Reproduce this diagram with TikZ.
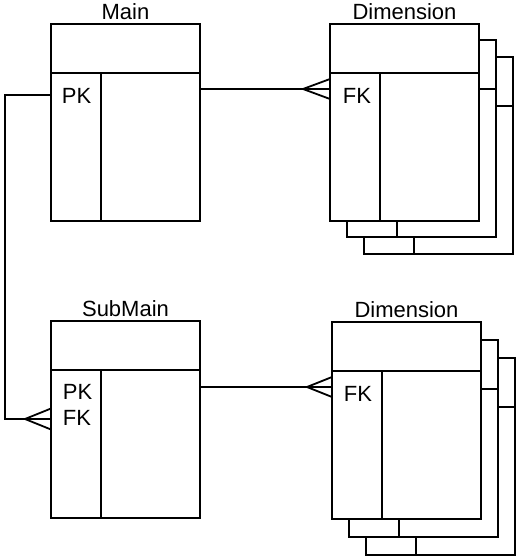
\documentclass[tikz,border=0pt]{standalone}
\usepackage{fontspec}
\setmainfont{Liberation Sans}
\usetikzlibrary{calc}
\newcommand\erdtab[3]{%
  \node[hdr] (#1h) at (#2,#3) {};
  \node[keycol] (#1k) at (#1h.south west) {};
  \node[attcol] (#1a) at (#1k.north east) {};
}
\begin{document}
\begin{tikzpicture}[x=1pt,y=-1pt,line width=1.8pt,
  cell/.style={draw,fill=white,inner sep=0pt,outer sep=0pt,anchor=north west},
  hdr/.style={cell,minimum width=149pt,minimum height=49pt},
  keycol/.style={cell,minimum width=50pt,minimum height=148pt},
  attcol/.style={cell,minimum width=99pt,minimum height=148pt},
  ttl/.style={anchor=base,inner sep=0pt,font=\fontsize{22}{26}\selectfont},
  keytxt/.style={anchor=base west,inner sep=0pt,font=\fontsize{22}{26}\selectfont},
  conn/.style={draw,line width=1.8pt,line join=miter}]
\path[use as bounding box] (0,0) rectangle (520,559);
% Main
\erdtab{main}{51}{24}
\node[ttl] (mainT) at ($(mainh.north)+(0,-4)$) {Main};
\node[keytxt] (mainPK) at ($(maink.north west)+(10,30)$) {PK};
% Dimension 1 (stacked)
\erdtab{dimAc}{364}{57}
\erdtab{dimAb}{347}{40}
\erdtab{dimA}{330}{24}
\node[ttl] (dimAT) at ($(dimAh.north)+(0,-4)$) {Dimension};
\node[keytxt] (dimAFK) at ($(dimAk.north west)+(12,30)$) {FK};
% SubMain
\erdtab{sub}{51}{321}
\node[ttl] (subT) at ($(subh.north)+(0,-5)$) {SubMain};
\node[keytxt] (subPK) at ($(subk.north west)+(11,29)$) {PK};
\node[keytxt] (subFK) at ($(subk.north west)+(11,55)$) {FK};
% Dimension 2 (stacked)
\erdtab{dimBc}{366}{358}
\erdtab{dimBb}{349}{340}
\erdtab{dimB}{332}{322}
\node[ttl] (dimBT) at ($(dimBh.north)+(0,-5)$) {Dimension};
\node[keytxt] (dimBFK) at ($(dimBk.north west)+(11,30)$) {FK};
% connector Main -> Dimension 1
\coordinate (m1) at ($(maina.north east)+(0,16)$);
\coordinate (d1) at (m1 -| dimAk.west);
\draw[conn] (m1) -- (d1);
\draw[conn] ($(d1)+(0,-10)$) -- ($(d1)+(-27,0)$) -- ($(d1)+(0,10)$);
% connector Main -> SubMain
\coordinate (xl) at (5,0);
\coordinate (m2) at ($(maink.north west)+(0,22)$);
\coordinate (s2) at ($(subk.north west)+(0,49)$);
\draw[conn] (m2) -- (m2 -| xl) -- (s2 -| xl) -- (s2);
\draw[conn] ($(s2)+(0,-10.5)$) -- ($(s2)+(-26,0)$) -- ($(s2)+(0,10.5)$);
% connector SubMain -> Dimension 2
\coordinate (s3) at ($(suba.north east)+(0,17)$);
\coordinate (d3) at (s3 -| dimBk.west);
\draw[conn] (s3) -- (d3);
\draw[conn] ($(d3)+(0,-10)$) -- ($(d3)+(-25,0)$) -- ($(d3)+(0,10)$);
\end{tikzpicture}
\end{document}
